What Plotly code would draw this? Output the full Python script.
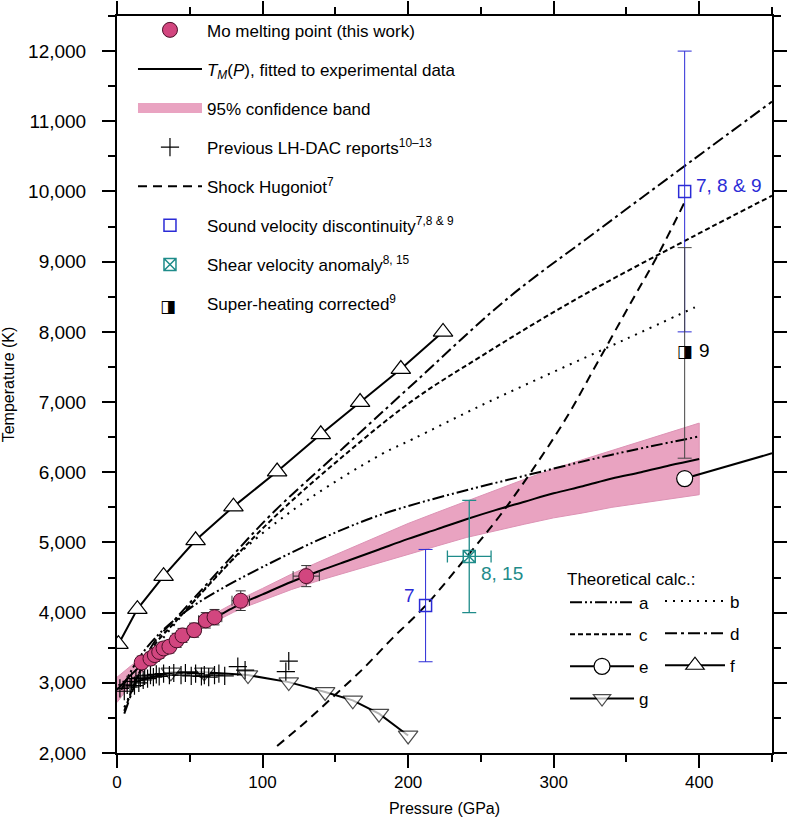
import plotly.graph_objects as go

FONT = "Liberation Sans, Arial, Helvetica, sans-serif"
BLUE = "#2b2bd6"
TEAL = "#1f8c8a"
PINK = "#d2467f"

# ---------------- data ----------------
# Mo melting points (this work)
mo_P = [17, 23, 26, 29, 32, 36, 41, 45, 53, 61, 67, 85, 130]
mo_T = [3290, 3345, 3395, 3440, 3490, 3515, 3605, 3675, 3750, 3890, 3935, 4170, 4520]
mo_Perr = [3, 3, 3, 3, 3, 3, 4, 4, 4, 5, 5, 6, 9]
mo_Terr = [90, 90, 90, 90, 90, 90, 100, 100, 100, 110, 110, 140, 150]

# fitted melting curve and 95% band
fit_P = [0, 10, 20, 30, 40, 50, 60, 70, 80, 90, 100, 120, 140, 160, 180, 200,
         220, 240, 260, 280, 300, 320, 340, 360, 380, 400]
fit_T = [2900, 3120, 3310, 3460, 3600, 3730, 3850, 3960, 4070, 4170, 4260, 4440,
         4600, 4750, 4900, 5050, 5190, 5330, 5460, 5580, 5700, 5800, 5910, 6000, 6100, 6190]
band_upper = [3080, 3250, 3405, 3535, 3660, 3785, 3905, 4020, 4135, 4245, 4345, 4550,
              4735, 4910, 5090, 5270, 5430, 5590, 5750, 5900, 6050, 6180, 6320, 6445, 6580, 6700]
band_lower = [2720, 2990, 3215, 3385, 3540, 3675, 3795, 3900, 4005, 4095, 4175, 4330,
              4465, 4590, 4710, 4830, 4950, 5070, 5170, 5260, 5350, 5420, 5500, 5555, 5620, 5680]

# previous LH-DAC reports
lh_P = [2, 5, 7, 9, 10, 12, 13, 15, 16, 18, 19, 21, 23, 25, 27, 29, 32, 36, 39, 44, 47,
        51, 54, 58, 60, 63, 67, 70, 74, 83, 88, 116, 118]
lh_T = [2920, 2880, 2970, 2940, 3020, 2960, 3060, 3000, 3070, 3040, 3100, 3060, 3110,
        3080, 3120, 3090, 3130, 3110, 3140, 3110, 3140, 3100, 3130, 3090, 3110, 3080,
        3110, 3130, 3100, 3230, 3180, 3160, 3310]

# shock Hugoniot
hug_P = [110, 130, 150, 170, 189, 212, 242, 263, 284, 308, 330, 354, 372, 390]
hug_T = [2100, 2450, 2830, 3220, 3630, 4100, 4840, 5380, 5990, 6750, 7560, 8450, 9110, 9850]

# sound velocity discontinuity
sv_P = [212, 390]
sv_T = [4100, 10000]
sv_Terr = [800, 2000]

# shear velocity anomaly
sh_P = [242]
sh_T = [4800]
sh_Perr = [15]
sh_Terr = [800]

# super-heating corrected
su_P = [390]
su_T = [7700]
su_Terr = [1500]

# theoretical calculations
a_P = [3, 15, 30, 50, 71, 100, 140, 182, 230, 284, 340, 400]
a_T = [2900, 3350, 3720, 4060, 4330, 4650, 5050, 5400, 5690, 5970, 6250, 6510]
b_P = [5, 15, 25, 41, 71, 97, 134, 182, 203, 250, 300, 350, 397]
b_T = [2650, 3100, 3450, 3870, 4580, 5080, 5650, 6260, 6470, 6950, 7430, 7900, 8350]
c_P = [5, 10, 15, 25, 41, 71, 106, 152, 203, 250, 314, 395, 450]
c_T = [2600, 2880, 3130, 3520, 3890, 4570, 5320, 6170, 7020, 7650, 8450, 9350, 9940]
d_P = [5, 10, 15, 25, 41, 71, 106, 152, 203, 268, 330, 395, 450]
d_T = [2560, 2850, 3120, 3560, 3930, 4620, 5400, 6280, 7250, 8470, 9440, 10440, 11280]
e_P = [390, 450]
e_T = [5910, 6270]
f_P = [1, 14, 32, 54, 80, 110, 140, 167, 195, 224]
f_T = [3550, 4050, 4520, 5030, 5510, 6010, 6540, 7000, 7470, 8000]
g_P = [12, 37, 60, 90, 118, 143, 162, 180, 200]
g_T = [3010, 3150, 3150, 3110, 3010, 2870, 2750, 2560, 2250]
g_size = [0, 17, 17, 17, 17, 17, 17, 17, 17]

fig = go.Figure()

# 95% band
fig.add_trace(go.Scatter(
    x=fit_P + fit_P[::-1], y=band_upper + band_lower[::-1],
    fill="toself", fillcolor="#e9a3c1", mode="lines",
    line=dict(color="#dd93b5", width=1),
    showlegend=False, legendgroup="l3", hoverinfo="skip"))
# legend swatch for the band
fig.add_trace(go.Scatter(
    x=[None], y=[None], mode="lines", name="95% confidence band",
    line=dict(color="#e9a3c1", width=26),
    legend="legend", legendgroup="l3", legendrank=3))

# theoretical lines
theory = [
    ("a", a_P, a_T, "12px,3px,2px,3px,2px,3px", "legend2", 1),
    ("b", b_P, b_T, "2px,6px", "legend3", 1),
    ("c", c_P, c_T, "5px,3px", "legend2", 2),
    ("d", d_P, d_T, "12px,4px,3px,4px", "legend3", 2),
]
for name, px, py, dash, lg, rank in theory:
    fig.add_trace(go.Scatter(
        x=px, y=py, mode="lines", name=name,
        line=dict(color="black", width=2, dash=dash, shape="spline"),
        legend=lg, legendgroup="t" + name, legendrank=rank))

# Shock Hugoniot
fig.add_trace(go.Scatter(
    x=hug_P, y=hug_T, mode="lines", name="Shock Hugoniot<sup>7</sup>",
    line=dict(color="black", width=2, dash="9px,6px", shape="spline"),
    legend="legend", legendgroup="l5", legendrank=5))

# e
fig.add_trace(go.Scatter(
    x=e_P, y=e_T, mode="lines", line=dict(color="black", width=2),
    showlegend=False, hoverinfo="skip"))
fig.add_trace(go.Scatter(
    x=e_P[:1], y=e_T[:1], mode="lines+markers", name="e",
    line=dict(color="black", width=2),
    marker=dict(symbol="circle", size=16, color="white", line=dict(color="black", width=1.2)),
    legend="legend2", legendgroup="te", legendrank=3))

# f
fig.add_trace(go.Scatter(
    x=f_P, y=f_T, mode="lines+markers", name="f",
    line=dict(color="black", width=2),
    marker=dict(symbol="triangle-up", size=17, color="white", line=dict(color="black", width=1.2)),
    legend="legend3", legendgroup="tf", legendrank=3))

# g
fig.add_trace(go.Scatter(
    x=g_P, y=g_T, mode="lines+markers", name="g",
    line=dict(color="black", width=2),
    marker=dict(symbol="triangle-down", size=g_size, color="white", line=dict(color="black", width=1.2)),
    legend="legend2", legendgroup="tg", legendrank=4))

# previous LH-DAC
fig.add_trace(go.Scatter(
    x=lh_P, y=lh_T, mode="markers", name="Previous LH-DAC reports<sup>10\u201313</sup>",
    marker=dict(symbol="cross-thin", size=13, color="black", line=dict(color="black", width=1.2)),
    legend="legend", legendgroup="l4", legendrank=4))

# fitted curve
fig.add_trace(go.Scatter(
    x=fit_P, y=fit_T, mode="lines",
    name="<i>T</i><sub><i>M</i></sub>(<i>P</i>), fitted to experimental data",
    line=dict(color="black", width=2, shape="spline"),
    legend="legend", legendgroup="l2", legendrank=2))

# Mo melting points
fig.add_trace(go.Scatter(
    x=mo_P, y=mo_T, mode="markers", name="Mo melting point (this work)",
    marker=dict(symbol="circle", size=15, color=PINK, line=dict(color="#4a0f28", width=1)),
    error_y=dict(type="data", array=mo_Terr, color="#333333", thickness=1, width=5),
    error_x=dict(type="data", array=mo_Perr, color="#333333", thickness=1, width=5),
    legend="legend", legendgroup="l1", legendrank=1))

# sound velocity discontinuity
fig.add_trace(go.Scatter(
    x=sv_P, y=sv_T, mode="markers", name="Sound velocity discontinuity<sup>7,8 &amp; 9</sup>",
    marker=dict(symbol="square-open", size=12, color=BLUE, line=dict(color=BLUE, width=1.5)),
    error_y=dict(type="data", array=sv_Terr, color=BLUE, thickness=1, width=7),
    legend="legend", legendgroup="l6", legendrank=6))

# shear velocity anomaly
fig.add_trace(go.Scatter(
    x=sh_P, y=sh_T, mode="markers", name="Shear velocity anomaly<sup>8, 15</sup>",
    marker=dict(symbol="square-x-open", size=12, color=TEAL, line=dict(color=TEAL, width=1.5)),
    error_y=dict(type="data", array=sh_Terr, color=TEAL, thickness=1.3, width=7),
    error_x=dict(type="data", array=sh_Perr, color=TEAL, thickness=1.3, width=6),
    legend="legend", legendgroup="l7", legendrank=7))

# super-heating corrected (half-filled square glyph)
fig.add_trace(go.Scatter(
    x=su_P, y=su_T, mode="text", text=["\u25E8"], textposition="middle center",
    textfont=dict(family="DejaVu Sans", size=17, color="black"),
    error_y=dict(type="data", array=su_Terr, color="#444444", thickness=1, width=7),
    showlegend=False, hoverinfo="skip"))
fig.add_trace(go.Scatter(
    x=[None], y=[None], mode="markers", name="Super-heating corrected<sup>9</sup>",
    marker=dict(symbol="square", size=12, color="rgba(0,0,0,0)", line=dict(width=0)),
    legend="legend", legendgroup="l8", legendrank=8))

LBL = 19
annotations = [
    dict(x=sv_P[1], y=sv_T[1], text="7, 8 &amp; 9", showarrow=False, xanchor="left",
         xshift=9, yshift=6, font=dict(color=BLUE, size=LBL, family=FONT)),
    dict(x=su_P[0], y=su_T[0], text="9", showarrow=False, xanchor="left",
         xshift=12, yshift=2, font=dict(color="black", size=LBL, family=FONT)),
    dict(x=sv_P[0], y=sv_T[0], text="7", showarrow=False, xanchor="right",
         xshift=-9, yshift=10, font=dict(color=BLUE, size=LBL, family=FONT)),
    dict(x=sh_P[0], y=sh_T[0], text="8, 15", showarrow=False, xanchor="left",
         xshift=10, yshift=-17, font=dict(color=TEAL, size=LBL, family=FONT)),
    # legend glyph for super-heating corrected
    dict(x=0.0627, y=0.606, xref="paper", yref="paper", text="\u25E8", showarrow=False,
         font=dict(family="DejaVu Sans", size=17, color="black")),
]

axis_common = dict(showline=True, linecolor="black", linewidth=2, mirror="allticks",
                   ticks="outside", ticklen=13, tickwidth=2, tickcolor="black",
                   showgrid=False, zeroline=False, automargin=False)

fig.update_layout(
    width=788, height=822,
    margin=dict(l=117, r=16, t=14, b=69),
    paper_bgcolor="white", plot_bgcolor="white",
    font=dict(family=FONT, size=17, color="black"),
    xaxis=dict(range=[0, 450], dtick=100, tick0=0,
               tickfont=dict(family=FONT, size=17, color="black"),
               minor=dict(dtick=50, ticks="outside", ticklen=7, tickwidth=2, tickcolor="black"),
               title=dict(text="Pressure (GPa)", font=dict(size=16, family=FONT), standoff=11),
               **axis_common),
    yaxis=dict(range=[2000, 12500], dtick=1000, tick0=0, tickformat=",d",
               tickfont=dict(family=FONT, size=19, color="black"), ticklabelstandoff=12,
               minor=dict(dtick=500, ticks="outside", ticklen=7, tickwidth=2, tickcolor="black"),
               title=dict(text="Temperature (K)", font=dict(size=16, family=FONT), standoff=12),
               **axis_common),
    legend=dict(x=0.0244, y=1.005, xanchor="left", yanchor="top", bgcolor="rgba(0,0,0,0)",
                font=dict(size=17, family=FONT), itemwidth=64, tracegroupgap=14,
                traceorder="grouped"),
    legend2=dict(x=0.684, y=0.2585, xanchor="left", yanchor="top", bgcolor="rgba(0,0,0,0)",
                 font=dict(size=17, family=FONT), itemwidth=64, tracegroupgap=7,
                 traceorder="grouped",
                 title=dict(text="Theoretical calc.:", side="top", font=dict(size=17, family=FONT))),
    legend3=dict(x=0.829, y=0.230, xanchor="left", yanchor="top", bgcolor="rgba(0,0,0,0)",
                 font=dict(size=17, family=FONT), itemwidth=60, tracegroupgap=7,
                 traceorder="grouped"),
    annotations=annotations,
    showlegend=True,
)

fig.write_html("out.html", config={"displayModeBar": False},
               post_script="document.body.style.margin='0px';")
